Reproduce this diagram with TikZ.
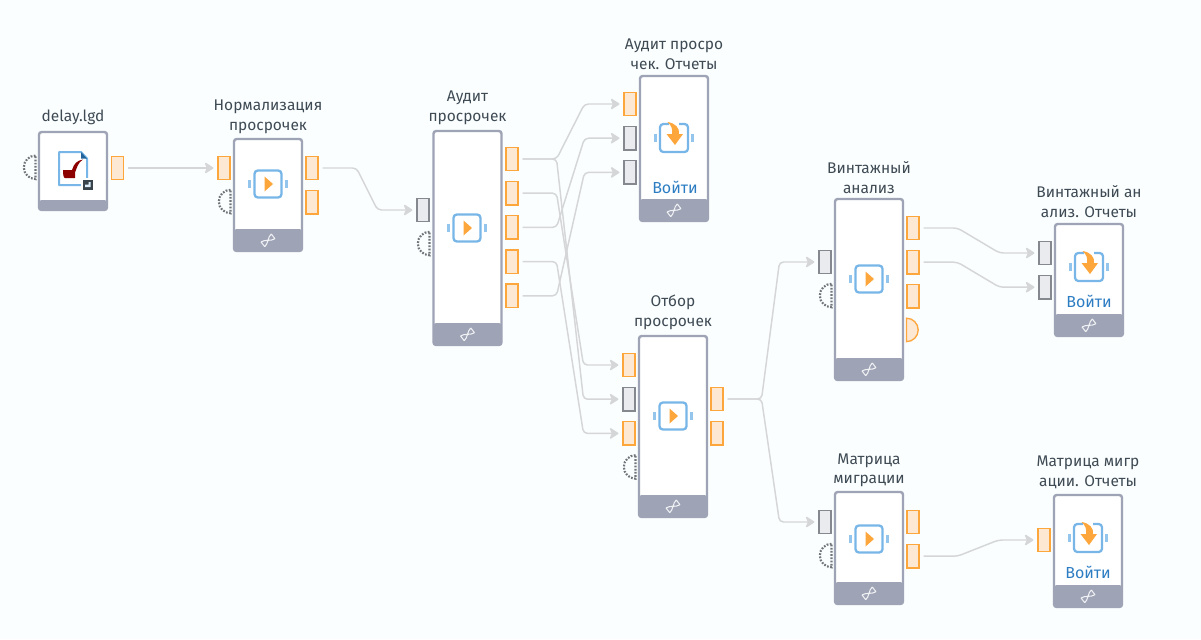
\documentclass[tikz,border=0pt]{standalone}
\usepackage{fontspec}
\setmainfont{Fira Sans}
\usetikzlibrary{arrows.meta,calc,positioning}
\definecolor{pagecol}{RGB}{251,254,254}
\definecolor{framecol}{RGB}{158,163,181}
\definecolor{linkcol}{RGB}{212,214,215}
\definecolor{orangecol}{RGB}{252,166,60}
\definecolor{orangefill}{RGB}{253,232,212}
\definecolor{graycol}{RGB}{133,136,142}
\definecolor{grayfill}{RGB}{233,235,238}
\definecolor{bluecol}{RGB}{120,182,232}
\definecolor{textcol}{RGB}{62,74,84}
\definecolor{entercol}{RGB}{45,125,195}
\tikzset{
    pics/twist/.style={code={
        \draw[white!85!framecol, line width=0.8pt, rotate=38]
            (-6.5,-3) .. controls (-2,-3) and (2,3) .. (6.5,3)
            (-6.5,3) .. controls (-2,3) and (2,-3) .. (6.5,-3)
            (-6.5,-3) -- (-6.5,3) (6.5,-3) -- (6.5,3);
    }},
    pics/sideticks/.style={code={
        \draw[bluecol!80, line width=1.6pt] (-18.5,-4) -- (-18.5,4) (18.5,-4) -- (18.5,4);
    }},
    pics/runicon/.style={code={
        \pic {sideticks};
        \draw[bluecol, line width=1.7pt, rounded corners=2.5pt] (-13.5,-13.5) rectangle (13.5,13.5);
        \fill[orangecol] (-3.5,-7.5) -- (5,0) -- (-3.5,7.5) -- cycle;
    }},
    pics/loadicon/.style={code={
        \pic {sideticks};
        \draw[bluecol, line width=1.7pt, rounded corners=2.5pt] (-5,-14) -- (-14,-14) -- (-14,14) -- (14,14) -- (14,-14) -- (5,-14);
        \fill[orangecol] (-6.5,-16) .. controls (1,-15) and (6,-10) .. (5,-4) -- (9,-4) -- (1,7) -- (-7.5,-4) -- (-2,-4) .. controls (-1,-9) and (-3,-13) .. (-6.5,-16) -- cycle;
    }},
    pics/fileicon/.style={code={
        \draw[bluecol, line width=1.5pt, line join=round] (-14,-16.5) -- (8,-16.5) -- (14,-10) -- (14,16.5) -- (-14,16.5) -- cycle;
        \fill[entercol!80!black] (8,-16.5) -- (14,-10) -- (8,-10) -- cycle;
        \fill[red!55!black] (-10,1.5) -- (-1,1.5) .. controls (1,-5) and (4,-8) .. (10,-9) .. controls (5,-6) and (4,-1) .. (2,4) -- (2,9.5) -- (-8,9.5) .. controls (-9.5,9.5) and (-10,6) .. (-10,1.5) -- cycle;
        \fill[white] (8,9) rectangle (21,22);
        \fill[textcol!90!black] (10,11) rectangle (20,21);
        \fill[white!75!bluecol] (12,18.5) -- (17.5,18.5) -- (17.5,13.5) -- (15.5,13.5) -- (15.5,16) -- (12,16) -- cycle;
    }},
    blockbase/.style={draw=framecol, line width=1.8pt, fill=white, rounded corners=2pt,
        inner sep=0pt, minimum width=51pt},
    block/.style={blockbase, minimum height=(#1-2)*0.75pt,
        path picture={
            \fill[framecol] ([yshift=16.5pt]path picture bounding box.south west) rectangle (path picture bounding box.south east);
            \pic at ([yshift=8pt]path picture bounding box.south) {twist};
        }},
    shortblock/.style={blockbase, minimum height=(#1-2)*0.75pt,
        path picture={
            \fill[framecol] ([yshift=7.5pt]path picture bounding box.south west) rectangle (path picture bounding box.south east);
        }},
    portbase/.style={inner sep=0pt, minimum width=8.8pt, minimum height=17.6pt, line width=1pt},
    oport/.style={portbase, draw=orangecol, fill=orangefill},
    gport/.style={portbase, draw=graycol, fill=grayfill},
    ctlport/.style={portbase, append after command={\pgfextra{
        \draw[graycol!85!black, line width=1.6pt, dash pattern=on 1.3pt off 1.1pt] (\tikzlastnode.north east) arc[start angle=90, end angle=270, radius=8.8pt] -- cycle;
    }}},
    halfport/.style={portbase, append after command={\pgfextra{
        \filldraw[orangecol, fill=orangefill, line width=1pt] (\tikzlastnode.north west) arc[start angle=90, end angle=-90, radius=8.8pt] -- cycle;
    }}},
    caption/.style={font=\fontsize{11.6pt}{14.9pt}\selectfont, text=textcol, align=center, inner sep=0pt},
    enter/.style={font=\fontsize{12pt}{14pt}\selectfont, text=entercol, inner sep=0pt},
    link/.style={draw=linkcol, line width=1.1pt, rounded corners=3pt, shorten <=3pt, shorten >=3pt,
        -{Stealth[length=7.5pt, width=9.5pt, inset=2pt, round]}}
}
\newcommand{\conn}[2]{\draw[link] (#1.east) -- ++(38,0) -- ($(#2.west)+(-39,0)$) -- (#2.west);}
\begin{document}
\begin{tikzpicture}[x=0.75pt, y=-0.75pt, node distance=25.65pt]
\fill[pagecol] (0,0) rectangle (1201,639);
\useasboundingbox (0,0) rectangle (1201,639);

% Blocks
\node[shortblock=80] (delay) at (73,171) {};
\node[block=114] (norm) at (268,195) {};
\node[block=216] (audit) at (467.5,238) {};
\node[block=147] (auditrep) at (674,148.5) {};
\node[block=183] (select) at (673,426.5) {};
\node[block=183] (vintage) at (869,289.5) {};
\node[block=114] (vintrep) at (1089,280) {};
\node[block=114] (matrix) at (869,548) {};
\node[block=114] (matrep) at (1088,551) {};

% Captions
\node[caption, above=4pt of delay] (delaycap) {delay.lgd};
\node[caption, above=3pt of norm] (normcap) {Нормализация\\просрочек};
\node[caption, above=3.5pt of audit] (auditcap) {Аудит\\просрочек};
\node[caption, above=3.5pt of auditrep] (auditrepcap) {Аудит просро\\чек. Отчеты};
\node[caption, above=3.5pt of select] (selectcap) {Отбор\\просрочек};
\node[caption, above=3pt of vintage] (vintagecap) {Винтажный\\анализ};
\node[caption, above=3.5pt of vintrep] (vintrepcap) {Винтажный ан\\ализ. Отчеты};
\node[caption, above=2.5pt of matrix] (matrixcap) {Матрица\\миграции};
\node[caption, above=3.5pt of matrep] (matrepcap) {Матрица мигр\\ации. Отчеты};

% Icons
\pic at (73,168.5) {fileicon};
\pic at (268,184) {runicon};
\pic at (467,228) {runicon};
\pic at (674,138) {loadicon};
\pic at (673,416) {runicon};
\pic at (869,279) {runicon};
\pic at (1089,267) {loadicon};
\pic at (869,539) {runicon};
\pic at (1088,538) {loadicon};
\node[enter] (auditrepgo) at (675,187) {Войти};
\node[enter] (vintrepgo) at (1089,301) {Войти};
\node[enter] (matrepgo) at (1088,572) {Войти};

% Ports
\node[ctlport] (delayctl) at (29,168) {};
\node[oport] (delayout) at (117.5,168) {};

\node[oport] (normin) at (224,168) {};
\node[ctlport, below of=normin] (normctl) {};
\node[oport] (normout1) at (312,168) {};
\node[oport, below of=normout1] (normout2) {};

\node[gport] (auditin) at (423,210) {};
\node[ctlport, below of=auditin] (auditctl) {};
\node[oport] (auditout1) at (512,159) {};
\node[oport, below of=auditout1] (auditout2) {};
\node[oport, below of=auditout2] (auditout3) {};
\node[oport, below of=auditout3] (auditout4) {};
\node[oport, below of=auditout4] (auditout5) {};

\node[oport] (auditrepin1) at (630,104) {};
\node[gport, below of=auditrepin1] (auditrepin2) {};
\node[gport, below of=auditrepin2] (auditrepin3) {};

\node[oport] (selectin1) at (629,365) {};
\node[gport, below of=selectin1] (selectin2) {};
\node[oport, below of=selectin2] (selectin3) {};
\node[ctlport, below of=selectin3] (selectctl) {};
\node[oport] (selectout1) at (717,399) {};
\node[oport, below of=selectout1] (selectout2) {};

\node[gport] (vintagein) at (825,262) {};
\node[ctlport, below of=vintagein] (vintagectl) {};
\node[oport] (vintageout1) at (913,228) {};
\node[oport, below of=vintageout1] (vintageout2) {};
\node[oport, below of=vintageout2] (vintageout3) {};
\node[halfport, below of=vintageout3] (vintagehalf) {};

\node[gport] (vintrepin1) at (1045,253) {};
\node[gport, below of=vintrepin1] (vintrepin2) {};

\node[gport] (matrixin) at (825,522) {};
\node[ctlport, below of=matrixin] (matrixctl) {};
\node[oport] (matrixout1) at (913,522) {};
\node[oport, below of=matrixout1] (matrixout2) {};

\node[oport] (matrepin) at (1044,540) {};

% Links
\conn{delayout}{normin}
\conn{normout1}{auditin}
\conn{auditout1}{auditrepin1}
\conn{auditout1}{selectin2}
\conn{auditout2}{selectin1}
\conn{auditout3}{auditrepin2}
\conn{auditout4}{selectin3}
\conn{auditout5}{auditrepin3}
\conn{selectout1}{vintagein}
\conn{selectout1}{matrixin}
\conn{vintageout1}{vintrepin1}
\conn{vintageout2}{vintrepin2}
\conn{matrixout2}{matrepin}

\end{tikzpicture}
\end{document}
